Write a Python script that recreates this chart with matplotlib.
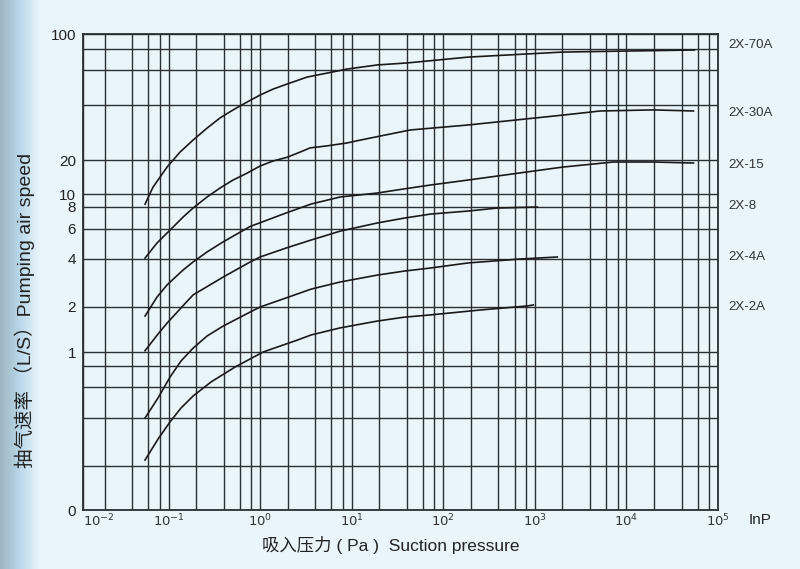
import numpy as np
import matplotlib
matplotlib.use("Agg")
import matplotlib.pyplot as plt
from matplotlib.colors import LinearSegmentedColormap
from matplotlib.transforms import blended_transform_factory

plt.rcParams['font.family'] = ['Liberation Sans', 'Noto Sans CJK SC', 'DejaVu Sans']

# pump curves: suction pressure (Pa) vs speed (L/S)
p_70a = [0.0554, 0.0677, 0.0963, 0.1336, 0.1852, 0.2635, 0.3655, 0.507, 0.7211, 1.0, 1.387,
         1.973, 3.263, 5.40, 8.93, 19.0, 40.4, 187.6, 2000, 10260, 55340]
s_70a = [8.4, 11.5, 17.3, 22.1, 25.7, 29.9, 34.0, 37.6, 41.4, 44.9, 48.1,
         51.0, 55.3, 57.9, 60.8, 64.3, 66.1, 71.6, 76.7, 77.8, 78.9]

p_30a = [0.0554, 0.0749, 0.1038, 0.144, 0.1852, 0.2635, 0.3655, 0.507, 0.7211, 1.0, 1.387, 1.973,
         2.736, 3.519, 5.40, 8.93, 12.39, 43.6, 187.6, 2000, 5200, 19720, 53950]
s_30a = [4.05, 4.97, 5.91, 7.01, 7.89, 9.50, 11.3, 13.3, 15.3, 17.7, 19.6, 20.7,
         22.1, 23.3, 23.9, 24.8, 25.7, 29.2, 31.1, 35.2, 37.1, 37.6, 37.1]

p_15 = [0.0554, 0.0749, 0.0963, 0.144, 0.1852, 0.2635, 0.3942, 0.7776, 1.923, 3.608, 7.49, 19.0,
        37.5, 72.1, 187.6, 2000, 7210, 19720, 53950]
s_15 = [1.74, 2.31, 2.75, 3.41, 3.83, 4.40, 5.04, 6.2, 7.40, 8.42, 9.50, 10.2,
        11.1, 12.0, 13.3, 17.3, 19.2, 19.2, 18.8]

p_8 = [0.0554, 0.0768, 0.0963, 0.1336, 0.1852, 0.3942, 0.7776, 1.0, 1.923, 3.608, 7.49, 19.0,
       37.5, 72.1, 187.6, 389, 1065]
s_8 = [1.02, 1.32, 1.56, 1.94, 2.38, 3.08, 3.83, 4.11, 4.64, 5.17, 5.83, 6.49,
       6.92, 7.29, 7.59, 7.89, 8.0]

p_4a = [0.0554, 0.0768, 0.1038, 0.137, 0.1852, 0.2635, 0.3942, 0.7776, 1.0, 1.923, 3.608, 7.49,
        19.0, 37.5, 72.1, 187.6, 695, 1762]
s_4a = [0.40, 0.52, 0.687, 0.867, 1.06, 1.28, 1.49, 1.85, 2.0, 2.28, 2.59, 2.87,
        3.17, 3.36, 3.51, 3.78, 4.0, 4.11]

p_2a = [0.0554, 0.0768, 0.1038, 0.137, 0.1852, 0.2913, 0.533, 1.078, 2.537, 3.608, 7.49, 19.0,
        37.5, 72.1, 253.6, 828, 963]
s_2a = [0.218, 0.295, 0.378, 0.456, 0.533, 0.643, 0.789, 1.0, 1.20, 1.30, 1.45, 1.61,
        1.71, 1.77, 1.91, 2.03, 2.06]

models = ['2X-70A', '2X-30A', '2X-15', '2X-8', '2X-4A', '2X-2A']
model_label_y = [85, 36, 18, 8.1, 4.1, 2.0]

y_grid = [0.1, 0.2, 0.4, 0.6, 0.8, 1, 2, 4, 6, 8, 10, 20, 40, 60, 80, 100]
y_labels = ['0', '', '', '', '', '1', '2', '4', '6', '8', '10', '20', '', '', '', '100']

x_decades = [1e-1, 1e0, 1e1, 1e2, 1e3, 1e4, 1e5]
x_dec_labels = [r'$10^{-1}$', r'$10^{0}$', r'$10^{1}$', r'$10^{2}$',
                r'$10^{3}$', r'$10^{4}$', r'$10^{5}$']

# the printed speed axis is log-like but hand drawn, so stretch it to the printed gridlines
y_grid_height = [0, 44, 92, 123, 144, 158, 203, 251, 281, 303, 316, 350, 405, 440, 461, 476]
log_knots = np.log10(y_grid)


def fwd(v):
    v = np.clip(np.asarray(v, dtype=float), 1e-6, None)
    return np.interp(np.log10(v), log_knots, y_grid_height)


def inv(h):
    return 10 ** np.interp(np.asarray(h, dtype=float), y_grid_height, log_knots)


bg = '#e9f5fa'
ink = '#2b2f33'
fig = plt.figure(figsize=(8, 5.69), dpi=100)
fig.patch.set_facecolor(bg)

# bluish scan edge on the left
band = fig.add_axes([0, 0, 0.05, 1])
band.imshow(np.linspace(0, 1, 64)[None, :], aspect='auto',
            cmap=LinearSegmentedColormap.from_list('edge', ['#9fb4c2', '#b9d8ea', bg]))
band.axis('off')

ax = fig.add_axes([83 / 800, 59 / 569, 635 / 800, 476 / 569])
ax.set_facecolor(bg)
ax.set_xscale('log')
ax.set_yscale('function', functions=(fwd, inv))
x_left = 10 ** -1.934
ax.set_xlim(x_left, 1e5)
ax.set_ylim(0.1, 100)

x_minor = [k * 10.0 ** d for d in range(-2, 5) for k in (2, 4, 6, 8) if k * 10.0 ** d > x_left]
ax.set_xticks([x_left] + x_decades)
ax.set_xticklabels([r'$10^{-2}$'] + x_dec_labels, fontsize=9.5, color='#333')
ax.set_xticks(x_minor, minor=True)
ax.xaxis.set_minor_formatter(plt.NullFormatter())
ax.set_yticks(y_grid)
ax.set_yticklabels(y_labels, fontsize=11, color='#222')
ax.set_yticks([], minor=True)
ax.tick_params(which='both', length=0)
ax.tick_params(axis='x', pad=2)
ax.tick_params(axis='y', pad=5)
xlabs = ax.get_xticklabels()
xlabs[0].set_horizontalalignment('left')
ax.grid(True, which='both', color=ink, lw=1.0)
for sp in ax.spines.values():
    sp.set_color(ink)
    sp.set_linewidth(1.3)

series = [(p_70a, s_70a), (p_30a, s_30a), (p_15, s_15), (p_8, s_8), (p_4a, s_4a), (p_2a, s_2a)]
for (p, s) in series:
    ax.plot(p, s, color='#1a1a1a', lw=1.2, solid_joinstyle='round')

tr = blended_transform_factory(ax.transAxes, ax.transData)
for name, yv in zip(models, model_label_y):
    ax.text(1.016, yv, name, transform=tr, fontsize=9.5, va='center', ha='left', color='#333')

fig.text(25 / 800, 1 - 310 / 569, '抽气速率 （L/S）Pumping air speed', rotation=90,
         ha='center', va='center', fontsize=14, color='#222')
fig.text(391 / 800, 1 - 545 / 569, '吸入压力 ( Pa )  Suction pressure',
         ha='center', va='center', fontsize=12.5, color='#222')
fig.text(760 / 800, 1 - 520 / 569, 'InP', ha='center', va='center', fontsize=11, color='#222')

fig.savefig('out.png', dpi=100, facecolor=fig.get_facecolor())
